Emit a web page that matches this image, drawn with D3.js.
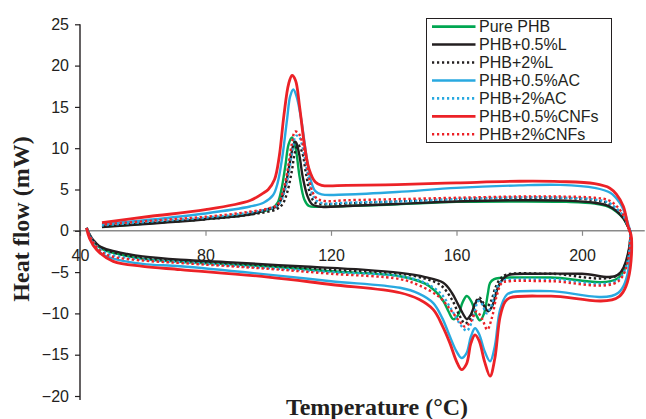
<!DOCTYPE html>
<html>
<head>
<meta charset="utf-8">
<script src="https://cdn.jsdelivr.net/npm/d3@7"></script>
<style>
  body { margin: 0; background: #fff; }
  text { font-family: "Liberation Sans", Arial, sans-serif; }
</style>
</head>
<body>
<div id="chart"></div>
<script>
// Series names (legend order)
const seriesNames = ["Pure PHB", "PHB+0.5%L", "PHB+2%L", "PHB+0.5%AC", "PHB+2%AC", "PHB+0.5%CNFs", "PHB+2%CNFs"];

// Tick values
const xTicks = [40, 80, 120, 160, 200];
const yTicks = [-20, -15, -10, -5, 0, 5, 10, 15, 20, 25];

// Heating branch [temperature, heat flow], ends at the right turn point
const pureHeat = [[42.1,0.35],[43,-0.5],[44.5,-1.4],[47,-2.2],[50,-2.6],[60,-3.4],[72,-3.75],[100,-4.3],[120,-4.9],[142,-5.5],[150,-6.4],[153,-7.2],[155.8,-8.5],[157.5,-9.8],[159,-10.7],[160.5,-10.2],[162,-8.6],[163.3,-7.9],[164.8,-8.6],[166.3,-10.2],[167.5,-10.85],[168.8,-10.0],[170,-7.6],[170.7,-6.3],[172,-5.85],[173.9,-5.7],[190,-5.65],[211.6,-5.7],[215.4,-0.3]];
const l05Heat = [[42.1,0.35],[43,-0.4],[44.2,-1.1],[46,-1.8],[49.6,-2.35],[55,-2.8],[60,-3.1],[72,-3.5],[90,-3.85],[110,-4.3],[130,-4.7],[142,-5.1],[150,-5.6],[155.8,-6.3],[158.5,-7.5],[160.5,-8.9],[162.3,-10.2],[163.3,-10.7],[164.5,-10.2],[166,-8.8],[167,-8.3],[168.3,-8.8],[170.1,-9.75],[171.5,-9.0],[172.8,-7.3],[173.9,-6.3],[175.5,-5.6],[177,-5.3],[185,-5.2],[200,-5.2],[211.6,-5.3],[215.4,-0.3]];
const l2Heat = [[42.1,0.35],[44.2,-1.3],[47,-2.1],[50,-2.55],[60,-3.3],[72,-3.6],[100,-4.2],[120,-4.7],[142,-5.2],[150,-5.8],[155,-6.6],[158.5,-8.3],[161,-10.3],[162.7,-11.2],[164.5,-10.6],[166,-8.7],[167.3,-8.1],[168.5,-8.7],[169.5,-9.3],[171,-8.5],[172.5,-6.8],[174,-5.8],[176,-5.3],[190,-5.2],[211.6,-5.3],[215.4,-0.3]];
const ac05Heat = [[42.1,0.35],[43,-0.7],[44.5,-1.8],[47,-2.8],[50,-3.3],[60,-4.0],[72,-4.3],[100,-5.3],[120,-6.1],[142,-6.9],[148,-7.6],[152.6,-8.75],[155.5,-10.6],[157.9,-12.8],[160,-14.6],[161.6,-15.4],[163.2,-14.8],[164.6,-12.8],[165.9,-11.8],[167.2,-12.5],[169,-14.6],[170.7,-15.8],[172.2,-14.0],[173.9,-9.55],[176,-7.74],[178,-7.4],[190,-7.3],[211.6,-7.5],[215.5,-0.4]];
const ac2Heat = [[42.1,0.35],[43.5,-0.8],[45,-1.7],[47,-2.4],[50,-2.9],[60,-3.5],[72,-3.8],[100,-4.5],[120,-5.0],[142,-5.5],[150,-6.3],[155,-7.6],[158.5,-9.6],[161.5,-11.5],[163.3,-12.1],[165,-10.9],[167,-8.5],[168.2,-8.9],[169.5,-10.0],[171,-9.2],[172.5,-7.2],[174.5,-6.1],[177,-5.9],[190,-5.85],[211.6,-5.9],[215.4,-0.3]];
const cnf05Heat = [[42.1,0.33],[43,-0.9],[45.3,-2.3],[50.6,-3.7],[60,-4.3],[72,-4.7],[100,-5.6],[120,-6.5],[142,-7.5],[148,-8.3],[152.6,-9.55],[155.5,-11.5],[157.9,-13.6],[160,-15.8],[161.6,-16.8],[163.2,-16.1],[164.6,-13.6],[165.9,-12.6],[167.2,-13.3],[169,-15.9],[170.7,-17.6],[172.2,-15.5],[173.9,-10.4],[175.5,-8.6],[177,-8.1],[190,-7.9],[211.9,-7.94],[215.8,-0.9]];
const cnf2Heat = [[42.1,0.35],[43.5,-0.9],[45,-1.8],[47,-2.6],[50,-3.1],[60,-3.6],[72,-3.9],[100,-4.6],[120,-5.2],[142,-5.85],[148,-6.6],[154.3,-7.94],[158,-9.5],[161,-11.0],[162.7,-11.6],[164.5,-11.0],[166.4,-9.75],[168.2,-10.7],[169.8,-11.97],[171.3,-10.5],[172.8,-7.9],[174.5,-6.3],[177,-6.1],[190,-6.1],[211.6,-6.1],[215.4,-0.3]];

// Cooling branch [temperature, heat flow], ascending temperature
const pureCool = [[47,0.5],[62,0.9],[80,1.45],[94,2.0],[101.5,2.8],[103,3.4],[104.2,5.0],[105.5,8.0],[106.5,10.5],[107.6,11.3],[108.8,9.8],[110,6.5],[111.5,3.8],[113,3.0],[116,2.9],[125,3.0],[141,3.2],[160,3.5],[180,3.55],[195,3.5],[204,3.3],[208.5,2.9],[211,2.3],[213.2,1.5],[214.5,0.6]];
const l05Cool = [[47,0.45],[62,0.85],[80,1.4],[94,1.95],[100.5,2.7],[102.5,2.9],[104,3.7],[105.5,5.5],[107,8.5],[108,10.4],[108.6,10.8],[109,10.6],[110,9.0],[111,6.5],[112.5,4.2],[114,3.2],[117,2.9],[125,3.0],[141,3.25],[160,3.55],[180,3.7],[195,3.65],[204,3.4],[208.5,3.0],[211,2.4],[213.2,1.5],[214.5,0.6]];
const l2Cool = [[47,0.55],[62,0.95],[80,1.4],[94,1.95],[102.5,2.6],[104.5,3.2],[106,4.6],[107.5,7.2],[108.5,9.5],[109.5,10.4],[110.8,9.5],[112,7.0],[113.5,4.3],[115,3.4],[118,3.2],[125,3.3],[141,3.55],[160,3.8],[180,4.0],[195,3.95],[204,3.7],[208.5,3.3],[211,2.6],[213.2,1.7],[214.5,0.7]];
const ac05Cool = [[47,0.8],[62,1.33],[80,2.1],[94.2,2.94],[98.5,3.4],[101.5,4.3],[103,5.8],[104.5,9.0],[106,13.5],[107,16.3],[108,17.1],[109,16.3],[110.5,13.5],[112,9.5],[113.5,6.2],[115,4.8],[117,4.4],[125,4.4],[141,4.7],[160,5.2],[180,5.5],[193,5.56],[204,5.2],[209,4.6],[212.1,3.35],[213.5,2.3],[214.7,0.8]];
const ac2Cool = [[47,0.65],[62,1.1],[80,1.6],[94,2.2],[101.5,2.8],[103.5,3.3],[105,4.5],[106.5,7.0],[107.8,10.0],[108.8,11.5],[109.8,11.4],[111,10.0],[112.5,7.0],[114,4.5],[115.5,3.6],[118,3.3],[125,3.4],[141,3.55],[160,3.85],[180,4.05],[195,4.0],[204,3.8],[208.5,3.4],[211,2.7],[213.2,1.8],[214.5,0.7]];
const cnf05Cool = [[47,1.0],[62,1.73],[80,2.55],[94.2,3.67],[98.4,4.56],[100,5.0],[102,6.2],[103.5,9.0],[105,14.0],[106.5,17.8],[107.6,18.8],[108.7,18.2],[110,15.0],[111.5,10.5],[113,7.5],[115,5.9],[117,5.5],[125,5.5],[141,5.6],[160,5.8],[180,6.0],[193,5.96],[204,5.7],[208.9,5.16],[211,4.4],[213.2,2.94],[214.7,0.5]];
const cnf2Cool = [[47,0.75],[62,1.2],[80,1.7],[94,2.3],[101,2.8],[103,3.2],[104.5,4.5],[106,7.0],[107.5,10.5],[108.5,12.0],[109.5,11.9],[111,10.5],[112.5,7.5],[114,4.8],[115.5,3.9],[118,3.6],[125,3.7],[141,3.83],[160,4.0],[180,4.15],[193,4.15],[204,4.0],[208.5,3.7],[211,3.0],[213.2,1.9],[214.6,0.7]];

const heatData = [pureHeat, l05Heat, l2Heat, ac05Heat, ac2Heat, cnf05Heat, cnf2Heat];
const coolData = [pureCool, l05Cool, l2Cool, ac05Cool, ac2Cool, cnf05Cool, cnf2Cool];

// Styles
const colors = ["#00a651", "#231f20", "#231f20", "#29a9e0", "#29a9e0", "#ec2227", "#ec2227"];
const dashed = [false, false, true, false, true, false, true];

const width = 646, height = 419;

const svg = d3.select("#chart")
  .append("svg")
    .attr("width", width)
    .attr("height", height);

// Scales
const x = d3.scaleLinear().domain([40, 200]).range([80, 582]);
const y = d3.scaleLinear().domain([-20, 25]).range([396, 24.3]);

// X axis sits at y = 0
const xAxis = svg.append("g")
    .attr("transform", `translate(0,${y(0)})`)
    .call(d3.axisBottom(x).tickValues(xTicks).tickSize(5).tickSizeOuter(0).tickPadding(14));
xAxis.select(".domain").remove();
xAxis.append("line")
    .attr("x1", x(37.8)).attr("x2", x(220))
    .attr("stroke", "#8a8a8a").attr("stroke-width", 1.4);
xAxis.selectAll(".tick line").attr("stroke", "#8a8a8a").attr("stroke-width", 1.2);
xAxis.selectAll(".tick text")
    .attr("font-size", 16)
    .attr("fill", "#231f20")
    .style("font-family", "'Liberation Sans', Arial, sans-serif");

// Y axis
const yAxis = svg.append("g")
    .attr("transform", `translate(${x(40)},0)`)
    .call(d3.axisLeft(y).tickValues(yTicks).tickSize(5).tickSizeOuter(0).tickPadding(6)
      .tickFormat(d => d < 0 ? "\u2212" + Math.abs(d) : d));
yAxis.select(".domain").attr("stroke", "#231f20").attr("stroke-width", 1.4)
    .attr("d", `M0,${y(25)}V${y(-20) + 4}`);
yAxis.selectAll(".tick line").attr("stroke", "#231f20").attr("stroke-width", 1.2);
yAxis.selectAll(".tick text")
    .attr("font-size", 16)
    .attr("fill", "#231f20")
    .style("font-family", "'Liberation Sans', Arial, sans-serif");

// Axis titles
svg.append("text")
    .attr("x", 377)
    .attr("y", 415)
    .attr("text-anchor", "middle")
    .style("font-family", "'Liberation Serif', 'Times New Roman', serif")
    .style("font-weight", "bold")
    .style("font-size", "24px")
    .attr("fill", "#231f20")
    .text("Temperature (\u00b0C)");

svg.append("text")
    .attr("transform", "translate(29,219) rotate(-90)")
    .attr("text-anchor", "middle")
    .style("font-family", "'Liberation Serif', 'Times New Roman', serif")
    .style("font-weight", "bold")
    .style("font-size", "24px")
    .attr("fill", "#231f20")
    .text("Heat flow (mW)");

// Curves: heating branch then cooling branch back to the left
const line = d3.line()
    .x(d => x(d[0]))
    .y(d => y(d[1]))
    .curve(d3.curveCatmullRom.alpha(0.5));

const loops = seriesNames.map((name, i) => heatData[i].concat(coolData[i].slice().reverse()));

svg.append("g")
  .selectAll("path")
  .data(loops)
  .join("path")
    .attr("d", d => line(d))
    .attr("fill", "none")
    .attr("stroke", (d, i) => colors[i])
    .attr("stroke-width", (d, i) => i === 5 ? 2.8 : 2.4)
    .attr("stroke-dasharray", (d, i) => dashed[i] ? "2.4,2.6" : null)
    .attr("stroke-linejoin", "round");

// Legend
const legend = svg.append("g");
legend.append("rect")
    .attr("x", 426.5).attr("y", 18.5)
    .attr("width", 185).attr("height", 124)
    .attr("fill", "#fff")
    .attr("stroke", "#231f20").attr("stroke-width", 1);

const rows = legend.selectAll(".legend")
  .data(seriesNames)
  .join("g")
    .attr("class", "legend")
    .attr("transform", (d, i) => `translate(0, ${26.6 + i * 17.95})`);

rows.append("line")
    .attr("x1", 432).attr("x2", 475.5)
    .attr("stroke", (d, i) => colors[i])
    .attr("stroke-width", 2.6)
    .attr("stroke-dasharray", (d, i) => dashed[i] ? "2.2,2.8" : null);

rows.append("text")
    .attr("x", 479)
    .attr("dy", "0.36em")
    .attr("font-size", 16)
    .attr("fill", "#231f20")
    .text(d => d);
</script>
</body>
</html>
